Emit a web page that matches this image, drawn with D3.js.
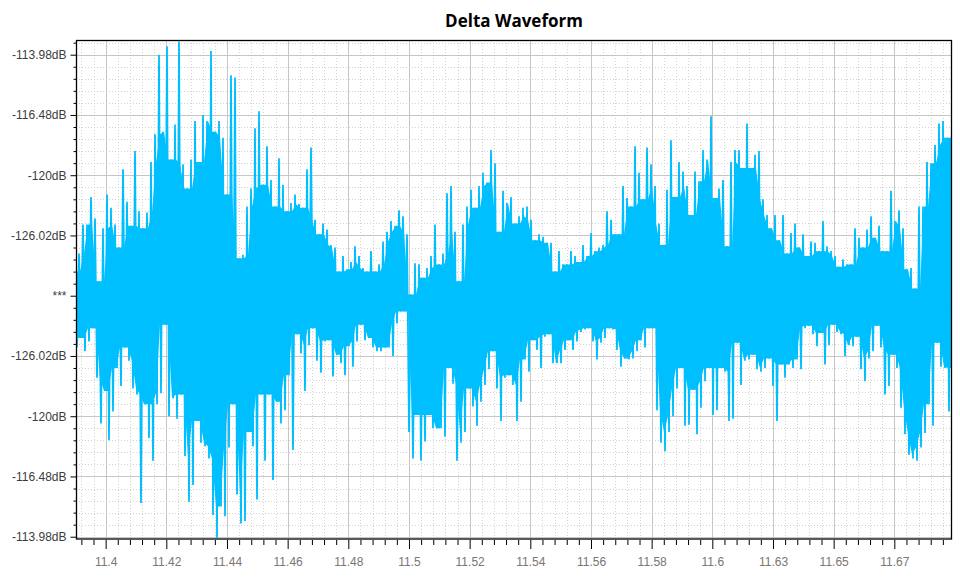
<!DOCTYPE html>
<html><head><meta charset="utf-8">
<script src="https://cdn.jsdelivr.net/npm/d3@7"></script>
<style>body{margin:0;background:#fff;} svg{display:block;}</style>
</head><body><svg id="chart" width="960" height="577"></svg>
<script>
// ---------------- data ----------------
const chartTitle = "Delta Waveform";
const timeStart = 11.3900, timeEnd = 11.6855;          // seconds covered by the trace
const xTickStart = 11.4, xTickStep = 0.020465, xTickCount = 14;
const yTickValues = [-2, -1.5, -1, -0.5, 0, 0.5, 1, 1.5, 2]; // amplitude in 1e-6 units
const yDomain = [-2.023, 2.122];
const zeroLabel = "***";
// upper / lower extremes of the delta signal per time slice (1e-6 units)
const upperEnv = [
0.20,0.35,0.59,0.59,0.82,0.64,0.12,0.56,0.84,0.73,
0.59,0.40,1.05,0.78,0.58,1.20,0.70,0.56,0.69,1.11,
1.34,2.00,1.36,2.07,1.13,1.42,2.11,1.09,0.89,1.13,
1.45,1.11,1.50,1.45,2.03,1.36,
1.45,1.31,0.84,1.83,1.81,0.31,0.34,0.74,0.89,1.39,
1.53,0.92,1.24,0.96,0.74,1.14,0.92,0.70,0.77,0.84,
0.76,0.73,1.05,1.23,0.63,0.51,0.60,0.55,0.42,0.40,
0.20,0.33,0.22,0.28,0.41,0.33,
0.23,0.20,0.37,0.20,0.26,0.45,0.53,0.62,0.58,0.71,
0.66,0.51,0.01,0.27,0.26,0.15,0.23,0.33,0.59,0.26,
0.35,0.85,0.91,0.53,0.12,0.59,0.74,0.88,0.73,0.91,
1.02,0.94,1.21,1.10,0.53,0.87,0.77,
0.82,0.60,0.66,0.73,0.74,0.63,0.46,0.51,0.49,0.44,
0.44,0.20,0.37,0.26,0.26,0.37,0.33,0.28,0.42,0.33,
0.52,0.37,0.40,0.42,0.70,0.63,0.51,0.51,0.91,0.81,
0.74,1.24,1.02,0.80,1.23,1.09,
0.91,0.60,0.42,0.88,1.29,0.82,1.11,1.03,0.91,0.67,
1.03,0.95,1.21,1.13,1.49,0.81,0.89,0.96,0.41,1.11,
1.21,1.21,1.06,1.43,1.06,1.17,1.20,0.80,0.67,0.56,
0.67,0.46,0.67,0.35,0.52,0.60,
0.40,0.51,0.33,0.45,0.44,0.37,0.62,0.41,0.37,0.33,
0.24,0.30,0.26,0.26,0.56,0.48,0.40,0.55,0.66,0.48,
0.58,0.37,0.37,0.87,0.62,0.71,0.56,0.22,0.23,0.06,
0.74,0.74,1.11,1.10,1.25,1.43,1.45,1.31,1.31
];
const lowerEnv = [
-0.43,-0.35,-0.46,-0.38,-0.27,-0.68,-1.06,-0.79,-1.20,-0.96,
-0.60,-0.75,-0.43,-0.54,-0.77,-0.82,-1.72,-0.90,-1.18,-1.37,
-0.90,-0.81,-0.24,-1.00,-0.85,-1.02,-0.82,-1.33,-1.71,-1.57,
-1.04,-1.22,-1.25,-1.35,-1.82,-2.01,
-1.75,-1.83,-1.26,-0.90,-1.65,-1.89,-1.87,-1.13,-1.25,-1.69,
-0.82,-1.37,-0.82,-1.53,-0.88,-1.06,-0.95,-0.66,-1.28,-0.32,
-0.48,-0.79,-0.41,-0.27,-0.54,-0.64,-0.38,-0.37,-0.67,-0.49,
-0.56,-0.66,-0.42,-0.59,-0.38,-0.24,
-0.37,-0.35,-0.43,-0.46,-0.46,-0.43,-0.43,-0.50,-0.23,-0.13,
-0.13,-1.13,-1.35,-0.99,-1.37,-1.21,-0.99,-1.10,-1.10,-1.10,
-1.17,-0.60,-0.73,-1.37,-1.22,-1.13,-0.77,-0.92,-1.08,-0.88,
-0.74,-0.61,-0.46,-0.77,-1.04,-0.68,-0.66,
-0.74,-1.04,-0.88,-0.53,-0.63,-0.37,-0.45,-0.60,-0.34,-0.32,
-0.56,-0.56,-0.56,-0.45,-0.37,-0.45,-0.38,-0.30,-0.28,-0.27,
-0.38,-0.53,-0.39,-0.35,-0.27,-0.28,-0.45,-0.59,-0.52,-0.53,
-0.52,-0.46,-0.37,-0.43,-0.27,-0.27,
-0.95,-1.22,-1.29,-1.13,-1.00,-0.77,-0.60,-1.08,-1.07,-0.78,
-1.15,-0.93,-0.71,-0.60,-0.99,-0.95,-0.60,-0.63,-1.04,-1.02,
-0.39,-0.74,-0.54,-0.53,-0.49,-0.61,-0.63,-0.60,-0.52,-0.75,
-1.04,-0.57,-0.68,-0.57,-0.60,-0.53,
-0.61,-0.27,-0.25,-0.32,-0.42,-0.31,-0.57,-0.41,-0.24,-0.30,
-0.32,-0.50,-0.41,-0.42,-0.34,-0.61,-0.71,-0.52,-0.46,-0.25,
-0.43,-0.82,-0.75,-0.49,-0.60,-0.93,-1.15,-1.32,-1.35,-1.37,
-1.26,-1.14,-0.90,-1.08,-0.39,-0.59,-0.60,-0.96,-0.60
];

// ---------------- layout ----------------
const W = 960, H = 577;
const margin = {left: 76, right: 8, top: 40, bottom: 37.5};
const iw = W - margin.left - margin.right;
const ih = H - margin.top - margin.bottom;
const font = "'Segoe UI','Liberation Sans',Arial,sans-serif";
const lineColor = "#00BFFF";

const svg = d3.select("#chart");
const g = svg.append("g").attr("transform", `translate(${margin.left},${margin.top})`);

const x = d3.scaleLinear().domain([timeStart, timeEnd]).range([0, iw]);
const y = d3.scaleLinear().domain(yDomain).range([ih, 0]);

const xMajor = d3.range(xTickCount).map(k => xTickStart + k * xTickStep);
const xMinorOnly = d3.range(-10, 80).filter(k => k % 5 !== 0)
  .map(k => xTickStart + k * xTickStep / 5)
  .filter(v => v >= timeStart && v <= timeEnd);
const yMinor = d3.range(-25, 26).filter(k => k % 5 !== 0).map(k => k / 10)
  .filter(v => v >= yDomain[0] && v <= yDomain[1]);

// minor grid (dotted)
g.append("g").selectAll("line").data(xMinorOnly).join("line")
  .attr("x1", d => Math.round(x(d)) + 0.5).attr("x2", d => Math.round(x(d)) + 0.5)
  .attr("y1", 0).attr("y2", ih)
  .attr("stroke", "#d2d2d2").attr("stroke-width", 1).attr("stroke-dasharray", "1,2");
g.append("g").selectAll("line").data(yMinor).join("line")
  .attr("y1", d => Math.round(y(d)) + 0.5).attr("y2", d => Math.round(y(d)) + 0.5)
  .attr("x1", 0).attr("x2", iw)
  .attr("stroke", "#d2d2d2").attr("stroke-width", 1).attr("stroke-dasharray", "1,2");
// major grid
g.append("g").selectAll("line").data(xMajor).join("line")
  .attr("x1", d => Math.round(x(d)) + 0.5).attr("x2", d => Math.round(x(d)) + 0.5)
  .attr("y1", 0).attr("y2", ih)
  .attr("stroke", "#c6c6c6").attr("stroke-width", 1);
g.append("g").selectAll("line").data(yTickValues).join("line")
  .attr("y1", d => Math.round(y(d)) + 0.5).attr("y2", d => Math.round(y(d)) + 0.5)
  .attr("x1", 0).attr("x2", iw)
  .attr("stroke", "#c6c6c6").attr("stroke-width", 1);

// waveform
g.append("clipPath").attr("id", "clip").append("rect").attr("width", iw).attr("height", ih);
const n = upperEnv.length;
const dt = (timeEnd - timeStart) / (n - 1);
// dense core of the trace: where neighbouring slices overlap
const core = upperEnv.map((u, i) => {
  const lo = Math.max(0, i - 1), hi = Math.min(n - 1, i + 1);
  return {
    t: timeStart + i * dt,
    top: d3.min(upperEnv.slice(lo, hi + 1)),
    bot: d3.max(lowerEnv.slice(lo, hi + 1))
  };
});
const area = d3.area().x(d => x(d.t)).y0(d => y(d.bot)).y1(d => y(d.top));
const wave = g.append("g").attr("clip-path", "url(#clip)");
wave.append("path").datum(core).attr("d", area).attr("fill", lineColor);

const pts = [];
upperEnv.forEach((u, i) => {
  const t = timeStart + i * dt;
  pts.push([t - dt / 4, u]);
  pts.push([t + dt / 4, lowerEnv[i]]);
});
const line = d3.line().x(d => x(d[0])).y(d => y(d[1]));
wave.append("path").datum(pts)
  .attr("d", line).attr("fill", "none").attr("stroke", lineColor)
  .attr("stroke-width", 1.8).attr("stroke-linejoin", "bevel");

// axes
const dbFmt = d3.format(".2~f");
const hyphen = s => s.replace(/\u2212/g, "-");
const yLabel = v => v === 0 ? zeroLabel : hyphen(dbFmt(20 * Math.log10(Math.abs(v) * 1e-6))) + "dB";
const yAxis = g.append("g").attr("transform", "translate(0.5,0)")
  .call(d3.axisLeft(y).tickValues(yTickValues).tickSize(6).tickPadding(4).tickFormat(yLabel));
const yAxisMinor = g.append("g").attr("transform", "translate(0.5,0)")
  .call(d3.axisLeft(y).tickValues(yMinor).tickSize(3).tickFormat(""));
const xAxis = g.append("g").attr("transform", `translate(0,${ih + 0.5})`)
  .call(d3.axisBottom(x).tickValues(xMajor).tickSize(9).tickPadding(8).tickFormat(d3.format(".2~f")));
const xAxisMinor = g.append("g").attr("transform", `translate(0,${ih + 0.5})`)
  .call(d3.axisBottom(x).tickValues(xMinorOnly).tickSize(5).tickFormat(""));
[yAxis, yAxisMinor, xAxis, xAxisMinor].forEach(a => {
  a.select(".domain").remove();
  a.selectAll(".tick line").attr("stroke", "#000");
});
yAxis.selectAll("text").attr("font-family", font).attr("font-size", 12).attr("fill", "#3c3c3c");
xAxis.selectAll("text").attr("font-family", font).attr("font-size", 12).attr("fill", "#7a7672");

// frame
g.append("rect").attr("x", 0.5).attr("y", 0.5).attr("width", iw - 1).attr("height", ih - 1)
  .attr("fill", "none").attr("stroke", "#000").attr("stroke-width", 1.3);

// title
svg.append("text").attr("x", margin.left + iw / 2).attr("y", 27)
  .attr("text-anchor", "middle").attr("font-family", "'Segoe UI','Open Sans',sans-serif")
  .attr("font-weight", "bold").attr("font-size", 17).attr("fill", "#000")
  .text(chartTitle);
</script>
</body></html>
